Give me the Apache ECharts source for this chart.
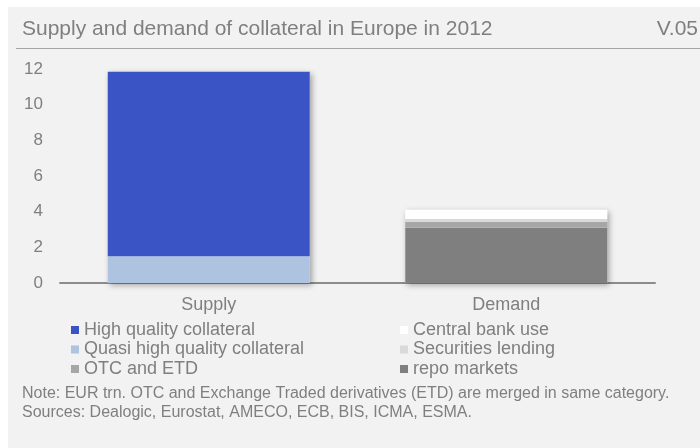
<!DOCTYPE html>
<html>
<head>
<meta charset="utf-8">
<style>
  html, body { margin: 0; padding: 0; background: #ffffff; }
  #chart { width: 700px; height: 448px; }
</style>
<script src="https://cdn.jsdelivr.net/npm/echarts@6/dist/echarts.min.js"></script>
</head>
<body>
<div id="chart"></div>
<script>
// Categories and stacked components (EUR trn)
const categories = ['Supply', 'Demand'];
const highQuality = [10.35, null];
const quasiHighQuality = [1.5, null];
const otcEtd = [null, 0.34];
const centralBank = [null, 0.52];
const securitiesLending = [null, 0.15];
const repoMarkets = [null, 3.1];
const yTicks = [0, 2, 4, 6, 8, 10, 12];

const FONT = '"Liberation Sans", Arial, sans-serif';
const TXT = '#7f7f7f';

// totals per category, used for the drop shadow behind each stacked column
const parts = [highQuality, quasiHighQuality, otcEtd, centralBank, securitiesLending, repoMarkets];
const totals = categories.map((_, i) => parts.reduce((s, a) => s + (a[i] || 0), 0));

const BAR_W = 202;

function seg(name, data, color) {
  return {
    name: name, type: 'bar', stack: 'total', data: data, barWidth: BAR_W,
    itemStyle: { color: color }, z: 3
  };
}

const legendBase = {
  orient: 'vertical', top: 316, itemWidth: 8, itemHeight: 8, itemGap: 1.5,
  icon: 'rect', selectedMode: false,
  textStyle: { color: TXT, fontSize: 18, fontFamily: FONT, lineHeight: 18 }
};

const chart = echarts.init(document.getElementById('chart'));
chart.setOption({
  animation: false,
  textStyle: { fontFamily: FONT },
  grid: { left: 60, right: 45, top: 69, bottom: 165 },
  xAxis: {
    type: 'category', data: categories,
    axisLine: { lineStyle: { color: '#8c8c8c', width: 2 } },
    axisTick: { show: false },
    axisLabel: { color: TXT, fontSize: 18, fontFamily: FONT, margin: 13 }
  },
  yAxis: {
    type: 'value', min: yTicks[0], max: yTicks[yTicks.length - 1], interval: 2,
    axisLine: { show: false }, axisTick: { show: false }, splitLine: { show: false },
    axisLabel: { color: TXT, fontSize: 17, fontFamily: FONT, margin: 17 }
  },
  legend: [
    Object.assign({}, legendBase, {
      left: 66,
      data: ['High quality collateral', 'Quasi high quality collateral', 'OTC and ETD']
    }),
    Object.assign({}, legendBase, {
      left: 395,
      data: ['Central bank use', 'Securities lending', 'repo markets']
    })
  ],
  graphic: [
    { type: 'rect', z: -100, silent: true, shape: { x: 8, y: 7, width: 692, height: 441 }, style: { fill: '#f2f2f2' } },
    { type: 'text', left: 22, top: 19, style: { text: 'Supply and demand of collateral in Europe in 2012', fill: TXT, font: '21px ' + FONT } },
    { type: 'text', right: 2, top: 19, style: { text: 'V.05', fill: TXT, font: '21px ' + FONT } },
    { type: 'line', silent: true, shape: { x1: 16, y1: 48.5, x2: 700, y2: 48.5 }, style: { stroke: '#a6a6a6', lineWidth: 1 } },
    { type: 'text', left: 22, top: 386, style: { text: 'Note: EUR trn. OTC and Exchange Traded derivatives (ETD) are merged in same category.', fill: TXT, font: '16px ' + FONT } },
    { type: 'text', left: 22, top: 405, style: { text: 'Sources: Dealogic, Eurostat, AMECO, ECB, BIS, ICMA, ESMA.', fill: TXT, font: '16px ' + FONT } }
  ],
  series: [
    {
      name: 'shadow', type: 'bar', data: totals, barWidth: BAR_W, barGap: '-100%', silent: true, z: 1,
      itemStyle: { color: '#f2f2f2', shadowBlur: 6, shadowColor: 'rgba(0,0,0,0.35)', shadowOffsetX: 2, shadowOffsetY: 2 }
    },
    seg('Quasi high quality collateral', quasiHighQuality, '#adc3e0'),
    seg('High quality collateral', highQuality, '#3a53c5'),
    seg('repo markets', repoMarkets, '#7f7f7f'),
    seg('OTC and ETD', otcEtd, '#a6a6a6'),
    seg('Securities lending', securitiesLending, '#d9d9d9'),
    seg('Central bank use', centralBank, '#ffffff')
  ]
});
</script>
</body>
</html>
